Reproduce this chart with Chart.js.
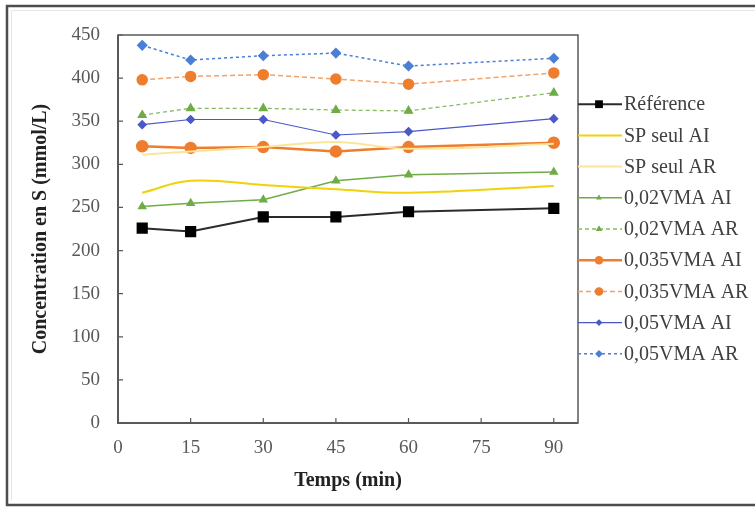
<!DOCTYPE html>
<html><head><meta charset="utf-8">
<script src="https://cdn.jsdelivr.net/npm/chart.js@4"></script>
<style>html,body{margin:0;padding:0;background:#fff}#wrap{width:755px;height:510px;position:relative}</style>
</head><body><div id="wrap"><canvas id="c" width="755" height="510"></canvas></div>
<script>
const times = [5, 15, 30, 45, 60, 90];
const xTicks = [0, 15, 30, 45, 60, 75, 90];
const yTicks = [0, 50, 100, 150, 200, 250, 300, 350, 400, 450];
const seriesNames = ['Référence', 'SP seul AI', 'SP seul AR', '0,02VMA AI', '0,02VMA AR',
  '0,035VMA AI', '0,035VMA AR', '0,05VMA AI', '0,05VMA AR'];
const reference = [226, 222, 239, 239, 245, 249];
const spSeulAI = [267, 281, 276, 271, 267, 275];
const spSeulAR = [311, 315, 320, 326, 318, 324];
const vma002AI = [251, 255, 259, 281, 288, 291];
const vma002AR = [357, 365, 365, 363, 362, 383];
const vma0035AI = [321, 319, 320, 315, 320, 325];
const vma0035AR = [398, 402, 404, 399, 393, 406];
const vma005AI = [346, 352, 352, 334, 338, 353];
const vma005AR = [438, 421, 426, 429, 414, 423];

const values = [reference, spSeulAI, spSeulAR, vma002AI, vma002AR, vma0035AI, vma0035AR, vma005AI, vma005AR];
const styles = [
  {line: '#2b2b2b', fill: '#000000', w: 2, dash: [], ps: 'rect', r: 6.5, t: 0},
  {line: '#efd20a', fill: '#efd20a', w: 2, dash: [], ps: false, r: 0, t: 0.4},
  {line: '#fbe59a', fill: '#fbe59a', w: 2, dash: [], ps: false, r: 0, t: 0.4},
  {line: '#6fac46', fill: '#6fac46', w: 1.5, dash: [], ps: 'triangle', r: 4, t: 0},
  {line: '#86bb60', fill: '#6fac46', w: 1.3, dash: [4, 3], ps: 'triangle', r: 4.5, t: 0},
  {line: '#ee7d2e', fill: '#ee7d2e', w: 2.5, dash: [], ps: 'circle', r: 5, t: 0},
  {line: '#f3a26b', fill: '#ee7d2e', w: 1.5, dash: [5, 3], ps: 'circle', r: 5, t: 0},
  {line: '#4b58c8', fill: '#4b58c8', w: 1.2, dash: [], ps: 'rectRot', r: 4, t: 0},
  {line: '#4a7fd6', fill: '#4a7fd6', w: 1.5, dash: [3, 3], ps: 'rectRot', r: 4.5, t: 0}
];

const datasets = values.map((v, i) => ({
  label: seriesNames[i],
  data: v.map((y, k) => ({x: times[k], y: y})),
  borderColor: styles[i].line,
  backgroundColor: styles[i].fill,
  pointBackgroundColor: styles[i].fill,
  pointBorderColor: styles[i].fill,
  borderWidth: styles[i].w,
  borderDash: styles[i].dash,
  pointStyle: styles[i].ps || 'circle',
  pointRadius: styles[i].ps ? styles[i].r : 0,
  pointHoverRadius: styles[i].ps ? styles[i].r : 0,
  tension: styles[i].t,
  clip: false,
  fill: false
}));

function marker(ctx, style, x, y, r, color) {
  ctx.save();
  ctx.fillStyle = color;
  ctx.beginPath();
  if (style === 'rect') {
    const s = Math.SQRT1_2 * r;
    ctx.rect(x - s, y - s, 2 * s, 2 * s);
  } else if (style === 'circle') {
    ctx.arc(x, y, r, 0, Math.PI * 2);
  } else if (style === 'triangle') {
    ctx.moveTo(x, y - r);
    ctx.lineTo(x + r * 0.866, y + r * 0.5);
    ctx.lineTo(x - r * 0.866, y + r * 0.5);
    ctx.closePath();
  } else if (style === 'rectRot') {
    ctx.moveTo(x, y - r); ctx.lineTo(x + r, y); ctx.lineTo(x, y + r); ctx.lineTo(x - r, y); ctx.closePath();
  }
  ctx.fill();
  ctx.restore();
}

const framePlugin = {
  id: 'frame',
  beforeDraw(chart) {
    const ctx = chart.ctx;
    ctx.save();
    ctx.fillStyle = '#ffffff';
    ctx.fillRect(0, 0, chart.width, chart.height);
    ctx.strokeStyle = '#4d4d4d';
    ctx.lineWidth = 2.5;
    ctx.beginPath();
    ctx.moveTo(chart.width, 6); ctx.lineTo(7, 6); ctx.lineTo(7, 505); ctx.lineTo(chart.width, 505);
    ctx.stroke();
    ctx.strokeStyle = '#e6e6e6';
    ctx.lineWidth = 1;
    ctx.beginPath();
    ctx.moveTo(chart.width, 10.5); ctx.lineTo(11.5, 10.5); ctx.lineTo(11.5, 501);
    ctx.stroke();
    ctx.restore();
  },
  afterDraw(chart) {
    const ctx = chart.ctx;
    const a = chart.chartArea;
    const xs = chart.scales.x, ys = chart.scales.y;
    ctx.save();
    ctx.strokeStyle = '#595959';
    ctx.lineWidth = 1.5;
    ctx.strokeRect(a.left, a.top, a.right - a.left, a.bottom - a.top);
    ctx.lineWidth = 2;
    ctx.beginPath();
    ctx.moveTo(a.left, a.top); ctx.lineTo(a.left, a.bottom); ctx.lineTo(a.right, a.bottom);
    ctx.stroke();
    ctx.lineWidth = 1.2;
    ctx.beginPath();
    yTicks.forEach(v => { const y = ys.getPixelForValue(v); ctx.moveTo(a.left, y); ctx.lineTo(a.left + 5, y); });
    xTicks.forEach(v => { const x = xs.getPixelForValue(v); ctx.moveTo(x, a.bottom); ctx.lineTo(x, a.bottom - 5); });
    ctx.stroke();
    const n = chart.data.datasets.length;
    const rowH = 31.2;
    const y0 = (a.top + a.bottom) / 2 - (n - 1) * rowH / 2;
    ctx.font = '20px "Liberation Serif"';
    ctx.textBaseline = 'middle';
    ctx.textAlign = 'left';
    chart.data.datasets.forEach((d, i) => {
      const y = y0 + i * rowH;
      const st = styles[i];
      ctx.save();
      ctx.strokeStyle = st.line;
      ctx.lineWidth = st.w;
      ctx.setLineDash(st.dash);
      ctx.beginPath();
      ctx.moveTo(a.right, y); ctx.lineTo(a.right + 44, y);
      ctx.stroke();
      ctx.restore();
      if (st.ps) marker(ctx, st.ps, a.right + 21, y, st.r * 0.85, st.fill);
      ctx.fillStyle = '#404040';
      ctx.fillText(d.label, a.right + 46, y + 1);
    });
    ctx.restore();
  }
};

new Chart(document.getElementById('c'), {
  type: 'line',
  data: {datasets: datasets},
  options: {
    responsive: false,
    devicePixelRatio: 1,
    animation: false,
    layout: {padding: {top: 35, right: 177, left: 0, bottom: 0}},
    plugins: {legend: {display: false}, tooltip: {enabled: false}},
    scales: {
      x: {
        type: 'linear', min: 0, max: 95,
        afterBuildTicks: s => { s.ticks = xTicks.map(v => ({value: v})); },
        afterFit: s => { s.height = 87; },
        grid: {display: false, drawTicks: false},
        border: {display: false},
        ticks: {padding: 14, color: '#595959', font: {family: 'Liberation Serif', size: 19}, maxRotation: 0},
        title: {display: true, text: 'Temps (min)', color: '#222222',
          font: {family: 'Liberation Serif', size: 20, weight: 'bold'}, padding: {top: 0, bottom: 17}}
      },
      y: {
        type: 'linear', min: 0, max: 450,
        afterBuildTicks: s => { s.ticks = yTicks.map(v => ({value: v})); },
        afterFit: s => { s.width = 118; },
        grid: {display: false, drawTicks: false},
        border: {display: false},
        ticks: {padding: 18, color: '#595959', font: {family: 'Liberation Serif', size: 19}},
        title: {display: true, text: 'Concentration en S (mmol/L)', color: '#222222',
          font: {family: 'Liberation Serif', size: 20, weight: 'bold'}, padding: {top: 29, bottom: 0}}
      }
    }
  },
  plugins: [framePlugin]
});
</script>
</body></html>
